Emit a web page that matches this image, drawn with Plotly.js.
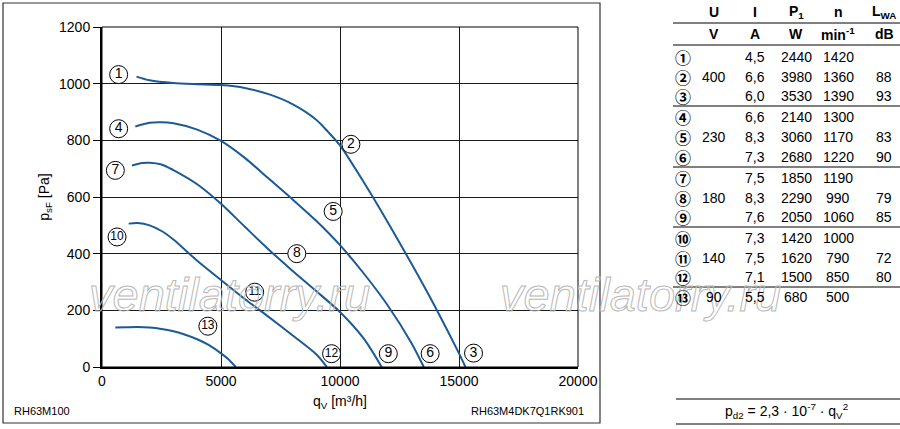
<!DOCTYPE html>
<html><head><meta charset="utf-8">
<script src="https://cdn.plot.ly/plotly-3.0.1.min.js"></script>
<style>html,body{margin:0;padding:0;background:#fff;} #chart{width:900px;height:429px;}</style>
</head><body><div id="chart"></div>
<script>
// ---- fan curves (q_V in m3/h, p_sF in Pa) ----
const flowA  = [1450, 2000, 3000, 4000, 5000, 6000, 7000, 8000, 9000, 9500, 10000, 11000, 12000, 13000, 14000, 15000, 15270];
const pressA = [1025, 1012, 1002, 998, 995, 985, 963, 928, 873, 830, 782, 652, 512, 365, 212, 48, 0];
const flowB  = [1400, 2000, 2500, 3000, 4000, 5000, 6000, 7000, 8000, 9000, 10000, 11000, 12000, 13000, 13520];
const pressB = [849, 862, 864, 860, 838, 798, 738, 665, 592, 516, 430, 330, 218, 85, 0];
const flowC  = [1260, 1700, 2000, 2500, 3000, 4000, 5000, 6000, 7000, 8000, 9000, 10000, 11000, 11750];
const pressC = [711, 720, 721, 715, 695, 645, 576, 495, 415, 340, 268, 194, 100, 0];
const flowD  = [1120, 1500, 2000, 2500, 3000, 4000, 5000, 6000, 7000, 8000, 9000, 9450];
const pressD = [506, 508, 500, 480, 450, 375, 307, 240, 177, 112, 45, 0];
const flowE  = [560, 1000, 1500, 2000, 2500, 3000, 3500, 4000, 4500, 5000, 5300, 5620];
const pressE = [139, 140, 141, 139, 134, 126, 114, 98, 77, 48, 28, 0];

// ---- operating point labels ----
const labelNums = ['1','2','3','4','5','6','7','8','9','10','11','12','13'];
const labelQ = [700, 10459, 15610, 700, 9713, 13788, 560, 8185, 12030, 632, 6415, 9645, 4448];
const labelP = [1032, 786, 49, 841, 549, 47, 694, 400, 47, 459, 264, 47, 144];

// ---- axis ticks ----
const xTicks = [0, 5000, 10000, 15000, 20000];
const yTicks = [0, 200, 400, 600, 800, 1000, 1200];

// ---- table ----
const colHeads = ['U', 'I', 'P<sub>1</sub>', 'n', 'L<sub>WA</sub>'];
const colUnits = ['V', 'A', 'W', 'min<sup>-1</sup>', 'dB'];
const colU   = ['', '400', '', '', '230', '', '', '180', '', '', '140', '', '90'];
const colI   = ['4,5','6,6','6,0','6,6','8,3','7,3','7,5','8,3','7,6','7,3','7,5','7,1','5,5'];
const colP1  = ['2440','3980','3530','2140','3060','2680','1850','2290','2050','1420','1620','1500','680'];
const colN   = ['1420','1360','1390','1300','1170','1220','1190','990','1060','1000','790','850','500'];
const colLWA = ['', '88', '93', '', '83', '90', '', '79', '85', '', '72', '80', ''];

const FONT = 'Liberation Sans, Arial, Helvetica, sans-serif';
const BLUE = '#1c5a96';
const W = 900, H = 429, ML = 102, MR = 322, MT = 27, MB = 62;
const PW = W - ML - MR, PH = H - MT - MB;
const px = x => (x - ML) / PW;
const py = y => (H - MB - y) / PH;

function curve(q, p) {
  return {x: q, y: p, type: 'scatter', mode: 'lines', line: {color: BLUE, width: 2, shape: 'spline', smoothing: 0.8},
          hoverinfo: 'skip', showlegend: false};
}
const traces = [
  curve(flowA, pressA), curve(flowB, pressB), curve(flowC, pressC), curve(flowD, pressD), curve(flowE, pressE),
  {x: labelQ, y: labelP, text: labelNums, type: 'scatter', mode: 'markers+text', textposition: 'middle center',
   marker: {symbol: 'circle', size: 18, color: '#fff', line: {color: '#000', width: 1}},
   textfont: {family: FONT, size: labelNums.map(s => s.length > 1 ? 12 : 14), color: '#000'},
   hoverinfo: 'skip', showlegend: false, cliponaxis: false}
];

const ann = [];
const shapes = [];
// watermark
['229', '640'].forEach(cx => ann.push({text: 'ventilatorry.ru', xref: 'paper', yref: 'paper', x: px(+cx), y: py(294),
  xanchor: 'center', yanchor: 'middle', showarrow: false,
  font: {family: FONT, size: 47, style: 'italic', color: '#cfcfcf'}}));

// table header
const colX = [714, 755, 796, 838, 884];
colHeads.forEach((t, i) => ann.push({text: '<b>' + t + '</b>', xref: 'paper', yref: 'paper', x: px(colX[i]), y: py(12),
  xanchor: 'center', yanchor: 'middle', showarrow: false, font: {family: FONT, size: 14, color: '#000'}}));
colUnits.forEach((t, i) => ann.push({text: '<b>' + t + '</b>', xref: 'paper', yref: 'paper', x: px(colX[i]), y: py(34),
  xanchor: 'center', yanchor: 'middle', showarrow: false, font: {family: FONT, size: 14, color: '#000'}}));
const rowY = [57, 77, 96, 117, 137, 157, 178, 198, 217, 238, 258, 277, 297];
const cols = [colU, colI, colP1, colN, colLWA];
rowY.forEach((y, r) => {
  ann.push({text: String.fromCharCode(0x2460 + r), xref: 'paper', yref: 'paper', x: px(683), y: py(y),
    xanchor: 'center', yanchor: 'middle', showarrow: false,
    font: {family: 'Noto Sans CJK JP, Noto Sans CJK SC, sans-serif', size: 16, color: '#000', weight: 'bold'}});
  cols.forEach((c, i) => { if (c[r]) ann.push({text: c[r], xref: 'paper', yref: 'paper', x: px(colX[i]), y: py(y),
    xanchor: 'center', yanchor: 'middle', showarrow: false, font: {family: FONT, size: 14, color: '#000'}}); });
});
[23, 45, 106, 167, 227, 287].forEach(y => shapes.push({type: 'line', xref: 'paper', yref: 'paper',
  x0: px(673), x1: px(900), y0: py(y), y1: py(y), line: {color: '#000', width: 1}}));
[399, 424].forEach(y => shapes.push({type: 'line', xref: 'paper', yref: 'paper',
  x0: px(676), x1: px(900), y0: py(y), y1: py(y), line: {color: '#000', width: 1}}));
ann.push({text: 'p<sub>d2</sub> = 2,3 · 10<sup>-7</sup> · q<sub>V</sub><sup>2</sup>', xref: 'paper', yref: 'paper',
  x: px(786), y: py(411), xanchor: 'center', yanchor: 'middle', showarrow: false, font: {family: FONT, size: 14, color: '#000'}});

// type labels
ann.push({text: 'RH63M100', xref: 'paper', yref: 'paper', x: px(12), y: py(411), xanchor: 'left', yanchor: 'middle',
  showarrow: false, font: {family: FONT, size: 11, color: '#000'}});
ann.push({text: 'RH63M4DK7Q1RK901', xref: 'paper', yref: 'paper', x: px(586), y: py(411), xanchor: 'right', yanchor: 'middle',
  showarrow: false, font: {family: FONT, size: 11, color: '#000'}});

// outer frame and plot border
shapes.push({type: 'rect', xref: 'paper', yref: 'paper', x0: px(3), x1: px(600), y0: py(423), y1: py(3),
  line: {color: '#333', width: 1.2}});
shapes.push({type: 'rect', xref: 'paper', yref: 'paper', x0: 0, x1: 1, y0: 0, y1: 1, line: {color: '#000', width: 1}});

const layout = {
  width: W, height: H, margin: {l: ML, r: MR, t: MT, b: MB, pad: 0},
  paper_bgcolor: '#fff', plot_bgcolor: '#fff', showlegend: false,
  font: {family: FONT, size: 14, color: '#000'},
  xaxis: {range: [0, 20000], tickvals: xTicks, ticktext: xTicks.map(String), showgrid: true, gridcolor: '#1a1a1a', gridwidth: 1,
    showline: true, linecolor: '#000', linewidth: 2, zeroline: false, ticks: '', tickfont: {size: 14},
    title: {text: 'q<sub>V</sub> [m³/h]', font: {size: 14}, standoff: 8}, fixedrange: true},
  yaxis: {range: [0, 1200], tickvals: yTicks, ticktext: yTicks.map(String), showgrid: true, gridcolor: '#1a1a1a', gridwidth: 1,
    showline: true, linecolor: '#000', linewidth: 2, zeroline: false, ticks: 'outside', ticklen: 7, tickcolor: '#000', tickwidth: 1,
    tickfont: {size: 14}, title: {text: 'p<sub>sF</sub> [Pa]', font: {size: 14}, standoff: 6}, fixedrange: true},
  annotations: ann, shapes: shapes
};

Plotly.newPlot('chart', traces, layout, {staticPlot: true, displayModeBar: false}).then(() => {
  document.querySelectorAll('.annotation-text').forEach(el => {
    if (el.textContent === 'ventilatorry.ru') {
      el.style.fill = 'none';
      el.style.stroke = '#b8b8b8';
      el.style.strokeWidth = '1px';
    }
  });
});
</script></body></html>
